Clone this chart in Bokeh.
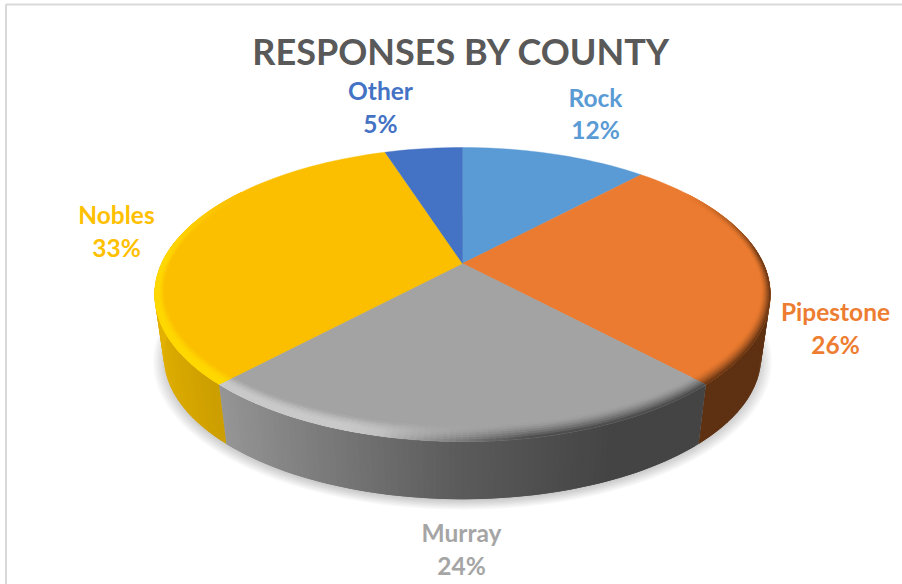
import math
from bokeh.plotting import figure
from bokeh.models import Range1d
from bokeh.core.properties import value
from bokeh.embed import file_html
from bokeh.resources import INLINE

# ---- data ----
title_text = "RESPONSES BY COUNTY"
counties = ["Rock", "Pipestone", "Murray", "Nobles", "Other"]
shares = [12, 26, 24, 33, 5]

# ---- styles ----
top_colors = ["#5B9BD5", "#EB7B30", "#A3A3A3", "#FBBF00", "#4472C4"]
label_colors = ["#5B9BD5", "#ED7D31", "#A5A5A5", "#FFC000", "#4472C4"]
rim_light = ["#7DB3E3", "#F59A5C", "#C9C9C9", "#FFD800", "#6A90D8"]
rim_dark = ["#2E5F8C", "#5E3112", "#444444", "#B98C00", "#27457C"]
label_x = [595, 835, 461, 116, 380]
name_y = [97, 311, 532, 214, 90]
pct_y = [129, 344, 565, 247, 123]

# ---- projection of the tilted disc ----
CX, CY, AX, BY, K = 462.0, 263.0, 301.0, 140.5, 0.2109
DEPTH, SHRINK = 63.0, 0.97


def project(u, v, s=1.0, d=0.0):
    den = 1 + K * v
    return CX + s * AX * u / den, CY + d - s * BY * v / den


def hex2rgb(h):
    return [int(h[i:i + 2], 16) for i in (1, 3, 5)]


def mix(a, b, t):
    t = max(0.0, min(1.0, t))
    ra, rb = hex2rgb(a), hex2rgb(b)
    return "#%02x%02x%02x" % tuple(round(x + (y - x) * t) for x, y in zip(ra, rb))


def ramp(stops, x):
    if x <= stops[0][0]:
        return stops[0][1]
    for (x0, c0), (x1, c1) in zip(stops, stops[1:]):
        if x <= x1:
            return mix(c0, c1, (x - x0) / (x1 - x0))
    return stops[-1][1]


side_stops = {
    "Rock": [(-1, "#3F6F9A"), (1, "#2E5F8C")],
    "Pipestone": [(-1, "#5E3112"), (1, "#5E3112")],
    "Murray": [(-0.7, "#979797"), (0.0, "#5A5A5A"), (0.4, "#444444"), (1, "#444444")],
    "Nobles": [(-1, "#E4B200"), (-0.7, "#CC9E00"), (1, "#CC9E00")],
    "Other": [(-1, "#2E4F8A"), (1, "#2E4F8A")],
}

total = sum(shares)
cum = [0]
for s_ in shares:
    cum.append(cum[-1] + s_)
spans = [(cum[i] / total * 2 * math.pi, cum[i + 1] / total * 2 * math.pi) for i in range(len(shares))]

W, H = 902, 584
p = figure(width=W, height=H, output_backend="svg", toolbar_location=None,
           x_range=Range1d(0, W), y_range=Range1d(H, 0),
           min_border=0, outline_line_color=None, background_fill_color="white",
           border_fill_color="white")
p.xaxis.visible = False
p.yaxis.visible = False
p.grid.visible = False

# chart-area border
p.line([902, 5.5, 5.5], [4, 4, 584], line_color="#D9D9D9", line_width=2)


def steps(a0, a1, deg=2.0):
    n = max(2, int(math.degrees(a1 - a0) / deg))
    return [a0 + (a1 - a0) * i / n for i in range(n + 1)]


# soft drop shadow under the disc
ring = steps(0, 2 * math.pi, 3.0)
for i in range(10):
    g = 0.98 + 0.006 * i
    pts = [project(math.sin(a) * g, math.cos(a) * g, SHRINK, DEPTH + 3) for a in ring]
    p.patch([q[0] for q in pts], [q[1] for q in pts], fill_color="#000000",
            fill_alpha=0.028, line_color=None)

# side wall: each strip reaches on under the next one, so that no seams show
xs, ys, cs = [], [], []
for name, (a0, a1) in zip(counties, spans):
    ang = steps(a0, a1, 1.0)
    for j, (b0, b1) in enumerate(zip(ang, ang[1:])):
        if math.cos((b0 + b1) / 2) > 0.25:
            continue
        be = ang[j + 2] if j + 2 < len(ang) else b1
        t0 = project(math.sin(b0), math.cos(b0))
        t1 = project(math.sin(be), math.cos(be))
        l0 = project(math.sin(b0), math.cos(b0), SHRINK, DEPTH)
        l1 = project(math.sin(be), math.cos(be), SHRINK, DEPTH)
        xs.append([t0[0], t1[0], l1[0], l0[0]])
        ys.append([t0[1], t1[1], l1[1], l0[1]])
        cs.append(ramp(side_stops[name], math.sin((b0 + b1) / 2)))
p.patches(xs, ys, fill_color=cs, line_color=None)

# top faces
for (a0, a1), c in zip(spans, top_colors):
    pts = [(CX, CY)] + [project(math.sin(a), math.cos(a)) for a in steps(a0, a1)]
    p.patch([q[0] for q in pts], [q[1] for q in pts], fill_color=c, line_color=c, line_width=0.4)

# bevel on the rim
BANDS = 7
xs, ys, cs = [], [], []
for i, (a0, a1) in enumerate(spans):
    ang = steps(a0, a1, 1.0)
    for j, (b0, b1) in enumerate(zip(ang, ang[1:])):
        mid = (b0 + b1) / 2
        u, v = math.sin(mid), math.cos(mid)
        w = max(0.0, min(1.0, (0.55 - v) / 0.5))
        if w <= 0:
            continue
        light = max(0.0, min(1.0, -u * 2.2 + 0.3)) * w
        dark = max(0.0, min(1.0, u * 2.5 + 0.55)) * w
        be = ang[j + 2] if j + 2 < len(ang) else b1

        def rw(a):
            return 0.028 + 0.042 * math.cos(a) ** 2

        for k in range(BANDS):
            t0, t1 = k / BANDS, (k + 1) / BANDS
            tm = (t0 + t1) / 2
            t1x = 1.0 if k == BANDS - 1 else (k + 2) / BANDS
            r00 = 1 - rw(b0) * (1 - t0)
            r01 = 1 - rw(b0) * (1 - t1x)
            r10 = 1 - rw(be) * (1 - t0)
            r11 = 1 - rw(be) * (1 - t1x)
            c = top_colors[i]
            bump = math.sin(math.pi * min(1.0, tm / 0.7) * 0.5)
            c = mix(c, rim_light[i], light * bump)
            c = mix(c, rim_dark[i], dark * tm ** 1.5)
            a = project(r00 * math.sin(b0), r00 * math.cos(b0))
            b = project(r01 * math.sin(b0), r01 * math.cos(b0))
            d = project(r11 * math.sin(be), r11 * math.cos(be))
            e = project(r10 * math.sin(be), r10 * math.cos(be))
            xs.append([a[0], b[0], d[0], e[0]])
            ys.append([a[1], b[1], d[1], e[1]])
            cs.append(c)
p.patches(xs, ys, fill_color=cs, line_color=None)

# texts
font = value("Lato")
p.text([461], [50], text=[title_text], text_font=font, text_font_style="bold",
       text_font_size="36px", text_color="#595959", text_align="center", text_baseline="middle")
p.text(label_x, name_y, text=counties, text_font=font, text_font_style="bold",
       text_font_size="24.5px", text_color=label_colors, text_align="center", text_baseline="middle")
p.text(label_x, pct_y, text=[f"{s_}%" for s_ in shares], text_font=font, text_font_style="bold",
       text_font_size="24.5px", text_color=label_colors, text_align="center", text_baseline="middle")

open("out.html", "w").write(file_html(p, INLINE))
